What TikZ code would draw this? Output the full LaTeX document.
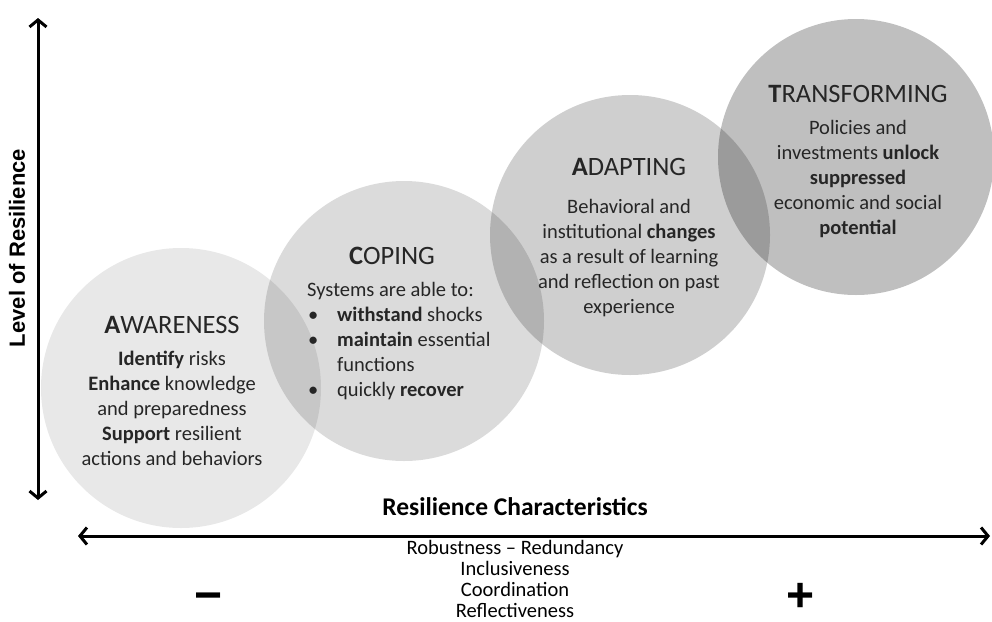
\documentclass[tikz,border=0pt]{standalone}
\usepackage{fontspec}
\setmainfont{Carlito}
\newfontfamily\labelfont{Liberation Sans}
\usetikzlibrary{arrows.meta, positioning}

\tikzset{
  phase/.style={circle, minimum size=280pt, inner sep=0pt, fill=black},
  head/.style={font=\fontsize{26.5}{30}\selectfont, text=black!85, inner sep=0pt},
  body/.style={font=\fontsize{20.5}{25}\selectfont, align=center, text=black!85, inner sep=0pt},
  axis/.style={line width=3pt, {Straight Barb[length=7pt,width=17pt]}-{Straight Barb[length=7pt,width=17pt]}},
  sign/.style={font=\labelfont\fontsize{48}{48}\selectfont\bfseries, inner sep=0pt},
}

\begin{document}
\begin{tikzpicture}[x=1pt, y=-1pt]
    \useasboundingbox (0,0) rectangle (992,621);

    % circles
    \node[phase, fill opacity=0.09] (aw) at (181,388) {};
    \node[phase, fill opacity=0.14] (co) at (404,321) {};
    \node[phase, fill opacity=0.19] (ad) at (630,235) {};
    \node[phase, fill opacity=0.25, minimum size=276pt] (tr) at (856,157) {};

    % awareness
    \node[head] (awhead) at (172,325) {\textbf{A}WARENESS};
    \node[body, below=17pt of awhead] (awtext) {\textbf{Identify} risks\\ \textbf{Enhance} knowledge\\ and preparedness\\ \textbf{Support} resilient\\ actions and behaviors};

    % coping
    \node[head] (cohead) at (392,256) {\textbf{C}OPING};
    \coordinate (coleft) at (307,0);
    \node[body, align=left, anchor=north west] (cotext) at ([yshift=-17pt]cohead.south -| coleft) {Systems are able to:\\
        \hspace*{1pt}\makebox[29pt][l]{\textbullet}\textbf{withstand} shocks\\
        \hspace*{1pt}\makebox[29pt][l]{\textbullet}\textbf{maintain} essential\\
        \hspace*{30pt}functions\\
        \hspace*{1pt}\makebox[29pt][l]{\textbullet}quickly \textbf{recover}};

    % adapting
    \node[head] (adhead) at (629,167) {\textbf{A}DAPTING};
    \node[body, below=23pt of adhead] (adtext) {Behavioral and\\ institutional \textbf{changes}\\ as a result of learning\\ and reflection on past\\ experience};

    % transforming
    \node[head] (trhead) at (858,94) {\textbf{T}RANSFORMING};
    \node[body, below=17pt of trhead] (trtext) {Policies and\\ investments \textbf{unlock}\\ \textbf{suppressed}\\ economic and social\\ \textbf{potential}};

    % axes
    \coordinate (ytop) at (38,18);
    \coordinate (ybot) at (38,500);
    \coordinate (xleft) at (78,536);
    \coordinate (xright) at (990,536);
    \draw[axis] (ybot) -- (ytop);
    \draw[axis] (xleft) -- (xright);

    \node[rotate=90, font=\labelfont\fontsize{22}{26}\selectfont\bfseries] (ylabel) at (17,248) {Level of Resilience};
    \node[font=\fontsize{25.5}{28}\selectfont\bfseries] (xlabel) at (515,507) {Resilience Characteristics};
    \node[font=\fontsize{20.5}{21}\selectfont, align=center, inner sep=0pt, below=4pt of xlabel.south|-xleft] (chars) {Robustness -- Redundancy\\ Inclusiveness\\ Coordination\\ Reflectiveness};
    \node[sign] (minus) at (209,602) {\symbol{"2212}};
    \node[sign] (plus) at (801,597) {+};
\end{tikzpicture}
\end{document}
